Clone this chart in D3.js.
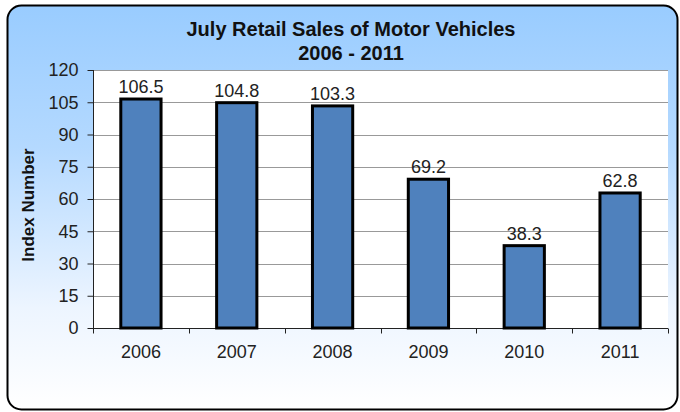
<!DOCTYPE html>
<html>
<head>
<meta charset="utf-8">
<script src="https://cdn.jsdelivr.net/npm/d3@7"></script>
<style>
  body { margin: 0; background: #fff; }
  text { font-family: "Liberation Sans", Arial, sans-serif; }
</style>
</head>
<body>
<div id="vis"></div>
<script>
    var years = ["2006", "2007", "2008", "2009", "2010", "2011"],
        values = [106.5, 104.8, 103.3, 69.2, 38.3, 62.8],
        yTicks = [0, 15, 30, 45, 60, 75, 90, 105, 120];

    var width = 680, height = 412,
        plot = {left: 93, right: 668, top: 70, bottom: 328};

    var svg = d3.select("#vis").append("svg").attr("width", width).attr("height", height);

    // background gradient for the frame
    var grad = svg.append("defs").append("linearGradient")
        .attr("id", "bg").attr("x1", 0).attr("y1", 0).attr("x2", 0).attr("y2", 1);
    grad.append("stop").attr("offset", "0%").attr("stop-color", "#99ccff");
    grad.append("stop").attr("offset", "35%").attr("stop-color", "#b4d9ff");
    grad.append("stop").attr("offset", "75%").attr("stop-color", "#edf5ff");
    grad.append("stop").attr("offset", "100%").attr("stop-color", "#ffffff");

    svg.append("rect")
        .attr("x", 7.5).attr("y", 5.5).attr("width", 670).attr("height", 404)
        .attr("rx", 14).attr("ry", 14)
        .attr("fill", "url(#bg)").attr("stroke", "#000").attr("stroke-width", 2);

    var x = d3.scaleBand().domain(years).range([plot.left, plot.right]).paddingInner(0.58).paddingOuter(0.29);
    var xEdges = d3.scaleBand().domain(years).range([plot.left, plot.right]);
    var y = d3.scaleLinear().domain([0, 120]).range([plot.bottom, plot.top]);

    // plot area
    svg.append("rect")
        .attr("x", plot.left).attr("y", plot.top)
        .attr("width", plot.right - plot.left).attr("height", plot.bottom - plot.top)
        .attr("fill", "#fff");

    // gridlines
    svg.append("g").selectAll("line").data(yTicks.filter(function (d) { return d > 0; }))
        .enter().append("line")
        .attr("x1", plot.left).attr("x2", plot.right)
        .attr("y1", function (d) { return Math.round(y(d)) + 0.5; })
        .attr("y2", function (d) { return Math.round(y(d)) + 0.5; })
        .attr("stroke", "#999").attr("stroke-width", 1);

    // y axis
    var yAxis = svg.append("g").attr("transform", "translate(" + (plot.left + 0.5) + ",0)")
        .call(d3.axisLeft(y).tickValues(yTicks).tickSize(6).tickPadding(9));
    yAxis.selectAll("path, line").attr("stroke", "#222");
    yAxis.select(".domain").attr("d", "M0," + plot.top + "V" + plot.bottom);
    yAxis.selectAll("text").attr("font-size", 18).attr("fill", "#222")
        .attr("font-family", "Liberation Sans, Arial, sans-serif");

    // x axis with ticks at category edges
    var xAxis = svg.append("g").attr("transform", "translate(0," + (plot.bottom + 0.5) + ")");
    xAxis.append("line").attr("x1", plot.left).attr("x2", plot.right).attr("stroke", "#222");
    xAxis.selectAll(".edge").data(years.concat(["end"]))
        .enter().append("line").attr("class", "edge")
        .attr("x1", function (d, i) { return Math.round(plot.left + i * xEdges.bandwidth()) + 0.5; })
        .attr("x2", function (d, i) { return Math.round(plot.left + i * xEdges.bandwidth()) + 0.5; })
        .attr("y1", 0).attr("y2", 5).attr("stroke", "#222");
    xAxis.selectAll(".lbl").data(years)
        .enter().append("text").attr("class", "lbl")
        .attr("x", function (d) { return xEdges(d) + xEdges.bandwidth() / 2; })
        .attr("y", 29).attr("text-anchor", "middle")
        .attr("font-size", 18).attr("fill", "#222").text(function (d) { return d; });

    // bars
    svg.append("g").selectAll("rect").data(values)
        .enter().append("rect")
        .attr("x", function (d, i) { return x(years[i]); })
        .attr("y", function (d) { return y(d); })
        .attr("width", x.bandwidth())
        .attr("height", function (d) { return y(0) - y(d); })
        .attr("fill", "#4f81bd").attr("stroke", "#000").attr("stroke-width", 3);

    // value labels
    svg.append("g").selectAll("text").data(values)
        .enter().append("text")
        .attr("x", function (d, i) { return x(years[i]) + x.bandwidth() / 2; })
        .attr("y", function (d) { return y(d) - 6; })
        .attr("text-anchor", "middle").attr("font-size", 18).attr("fill", "#222")
        .text(function (d) { return d.toFixed(1); });

    // title
    svg.append("text").attr("x", 351).attr("y", 36).attr("text-anchor", "middle")
        .attr("font-size", 20).attr("font-weight", "bold").attr("fill", "#111")
        .text("July Retail Sales of Motor Vehicles");
    svg.append("text").attr("x", 351).attr("y", 60).attr("text-anchor", "middle")
        .attr("font-size", 20).attr("font-weight", "bold").attr("fill", "#111")
        .text("2006 - 2011");

    // y axis title
    svg.append("text").attr("transform", "translate(34,205) rotate(-90)")
        .attr("text-anchor", "middle").attr("font-size", 17).attr("font-weight", "bold").attr("fill", "#111")
        .text("Index Number");
</script>
</body>
</html>
